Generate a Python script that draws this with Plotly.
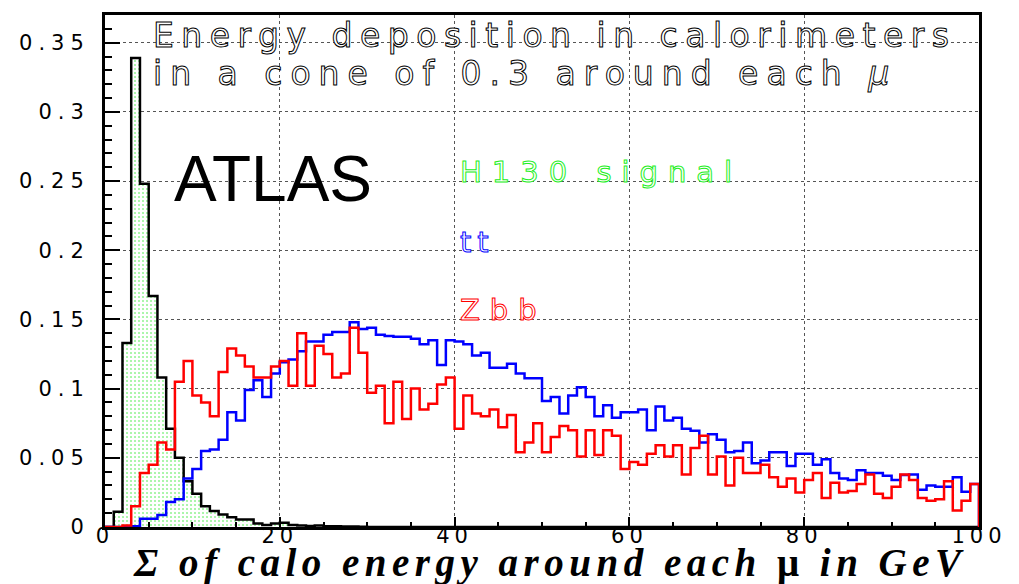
import numpy as np
import plotly.graph_objects as go

# 1 GeV bins from 0 to 100 GeV, normalised distributions
bin_edges = np.arange(0, 101, 1)

h130_signal = [
    0.0, 0.011, 0.133, 0.339, 0.248, 0.167, 0.108, 0.071, 0.050, 0.033,
    0.024, 0.015, 0.0115, 0.009, 0.007, 0.0055, 0.0055, 0.0025, 0.0015, 0.0025,
    0.003, 0.0015, 0.001, 0.0008, 0.001, 0.0005, 0.0005, 0.0003, 0.0003, 0.0002,
] + [0.0] * 70

tt_bkg = [
    0.0, 0.0, 0.0, 0.0005, 0.006, 0.006, 0.0087, 0.018, 0.020, 0.035,
    0.042, 0.055, 0.056, 0.063, 0.083, 0.077, 0.099, 0.106, 0.094, 0.111,
    0.119, 0.121, 0.127, 0.134, 0.134, 0.139, 0.141, 0.141, 0.148, 0.143,
    0.144, 0.139, 0.138, 0.1375, 0.1375, 0.136, 0.132, 0.135, 0.117, 0.135,
    0.134, 0.132, 0.124, 0.126, 0.115, 0.115, 0.118, 0.111, 0.1075, 0.1075,
    0.091, 0.094, 0.082, 0.095, 0.101, 0.094, 0.080, 0.088, 0.079, 0.083,
    0.083, 0.085, 0.070, 0.087, 0.077, 0.079, 0.071, 0.0695, 0.061, 0.067,
    0.063, 0.054, 0.055, 0.061, 0.046, 0.048, 0.054, 0.054, 0.044, 0.053,
    0.053, 0.045, 0.049, 0.039, 0.035, 0.034, 0.041, 0.039, 0.039, 0.037,
    0.034, 0.0375, 0.038, 0.027, 0.030, 0.029, 0.029, 0.036, 0.0255, 0.031,
]

zbb_bkg = [
    0.0, 0.0, 0.001, 0.015, 0.039, 0.045, 0.061, 0.056, 0.105, 0.120,
    0.095, 0.090, 0.080, 0.112, 0.129, 0.124, 0.116, 0.108, 0.108, 0.116,
    0.120, 0.102, 0.140, 0.102, 0.131, 0.125, 0.108, 0.111, 0.144, 0.126,
    0.097, 0.102, 0.075, 0.105, 0.078, 0.100, 0.085, 0.089, 0.103, 0.108,
    0.071, 0.095, 0.082, 0.080, 0.085, 0.072, 0.081, 0.054, 0.061, 0.075,
    0.054, 0.065, 0.073, 0.070, 0.051, 0.070, 0.052, 0.070, 0.066, 0.042,
    0.047, 0.045, 0.053, 0.059, 0.051, 0.059, 0.038, 0.057, 0.066, 0.038,
    0.051, 0.030, 0.050, 0.039, 0.039, 0.045, 0.036, 0.029, 0.035, 0.025,
    0.034, 0.039, 0.021, 0.032, 0.025, 0.026, 0.031, 0.038, 0.024, 0.021,
    0.029, 0.038, 0.034, 0.021, 0.019, 0.020, 0.033, 0.012, 0.019, 0.031,
]

y_tick_vals = [0, 0.05, 0.1, 0.15, 0.2, 0.25, 0.3, 0.35]
y_tick_text = ["0", "0.05", "0.1", "0.15", "0.2", "0.25", "0.3", "0.35"]
x_tick_vals = [0, 20, 40, 60, 80, 100]
x_tick_text = ["0", "20", "40", "60", "80", "100"]


def step_outline(values):
    """Closed step outline of a histogram (drops to zero at both ends)."""
    xs = np.concatenate([[bin_edges[0]], bin_edges, [bin_edges[-1]]])
    ys = [0.0] + list(values) + [values[-1], 0.0]
    return xs, ys


def spaced(text, spacing):
    return f'<span style="letter-spacing:{spacing}px">{text}</span>'


def hollow(text, color, spacing, width=1):
    return (f'<span style="fill:white;stroke:{color};stroke-width:{width}px;'
            f'letter-spacing:{spacing}px">{text}</span>')


fig = go.Figure()

sx, sy = step_outline(h130_signal)
fig.add_trace(go.Scatter(
    x=sx, y=sy, mode="lines", line=dict(shape="hv", color="black", width=2.5),
    fill="tozeroy",
    fillpattern=dict(shape=".", fgcolor="#2ee82e", bgcolor="white", size=4, solidity=0.22),
    hoverinfo="skip", showlegend=False,
))

tx, ty = step_outline(tt_bkg)
fig.add_trace(go.Scatter(
    x=tx, y=ty, mode="lines", line=dict(shape="hv", color="#0000ff", width=2.5),
    hoverinfo="skip", showlegend=False,
))

zx, zy = step_outline(zbb_bkg)
fig.add_trace(go.Scatter(
    x=zx, y=zy, mode="lines", line=dict(shape="hv", color="#ff0000", width=2.5),
    hoverinfo="skip", showlegend=False,
))

tick_font = dict(family="DejaVu Sans", size=21, color="black")

fig.update_layout(
    width=1019, height=584,
    margin=dict(l=105, r=31, t=14, b=57),
    paper_bgcolor="white", plot_bgcolor="white",
    xaxis=dict(
        range=[0, 100], tickmode="array", tickvals=x_tick_vals,
        ticktext=[spaced(t, 5) for t in x_tick_text],
        ticks="inside", ticklen=10, tickwidth=1.5, tickcolor="black",
        minor=dict(dtick=5, tick0=0, ticks="inside", ticklen=5, tickcolor="black", showgrid=False),
        showgrid=True, gridcolor="#555555", griddash="dot", gridwidth=1,
        showline=True, linewidth=2.5, linecolor="black", mirror=True,
        zeroline=False, tickfont=tick_font, ticklabelstandoff=-12,
    ),
    yaxis=dict(
        range=[0, 0.37], tickmode="array", tickvals=y_tick_vals,
        ticktext=[spaced(t, 6) for t in y_tick_text],
        ticks="inside", ticklen=15, tickwidth=1.5, tickcolor="black",
        minor=dict(dtick=0.01, tick0=0, ticks="inside", ticklen=7, tickcolor="black", showgrid=False),
        showgrid=True, gridcolor="#555555", griddash="dot", gridwidth=1,
        showline=True, linewidth=3, linecolor="black", mirror=True,
        zeroline=False, tickfont=tick_font, ticklabelstandoff=8,
    ),
)

annotations = [
    dict(text=hollow("Energy deposition in calorimeters", "#000", 7.5),
         x=0.053, y=0.959, xanchor="left", yanchor="middle",
         font=dict(family="DejaVu Sans", size=33, color="black")),
    dict(text=hollow("in a cone of 0.3 around each <i>μ</i>", "#000", 8),
         x=0.053, y=0.885, xanchor="left", yanchor="middle",
         font=dict(family="DejaVu Sans", size=33, color="black")),
    dict(text="ATLAS", x=0.1925, y=0.680, xanchor="center", yanchor="middle",
         font=dict(family="Liberation Sans", size=64, color="black")),
    dict(text=hollow("H130 signal", "#22ee22", 10),
         x=0.404, y=0.694, xanchor="left", yanchor="middle",
         font=dict(family="DejaVu Sans", size=29, color="#22ee22")),
    dict(text=hollow("tt", "#0000ff", 6),
         x=0.404, y=0.5575, xanchor="left", yanchor="middle",
         font=dict(family="DejaVu Sans", size=29, color="#0000ff")),
    dict(text=hollow("Zbb", "#ff0000", 10),
         x=0.404, y=0.423, xanchor="left", yanchor="middle",
         font=dict(family="DejaVu Sans", size=29, color="#ff0000")),
    dict(text=('<span style="letter-spacing:5.5px"><b><i>Σ of calo energy around each '
               '<span style="font-style:normal">μ</span> in GeV</i></b></span>'),
         x=0.5096, y=-0.0705, xanchor="center", yanchor="middle",
         font=dict(family="Liberation Serif", size=39, color="black")),
]
for a in annotations:
    a.update(xref="paper", yref="paper", showarrow=False)
fig.update_layout(annotations=annotations)

fig.write_html("out.html")
